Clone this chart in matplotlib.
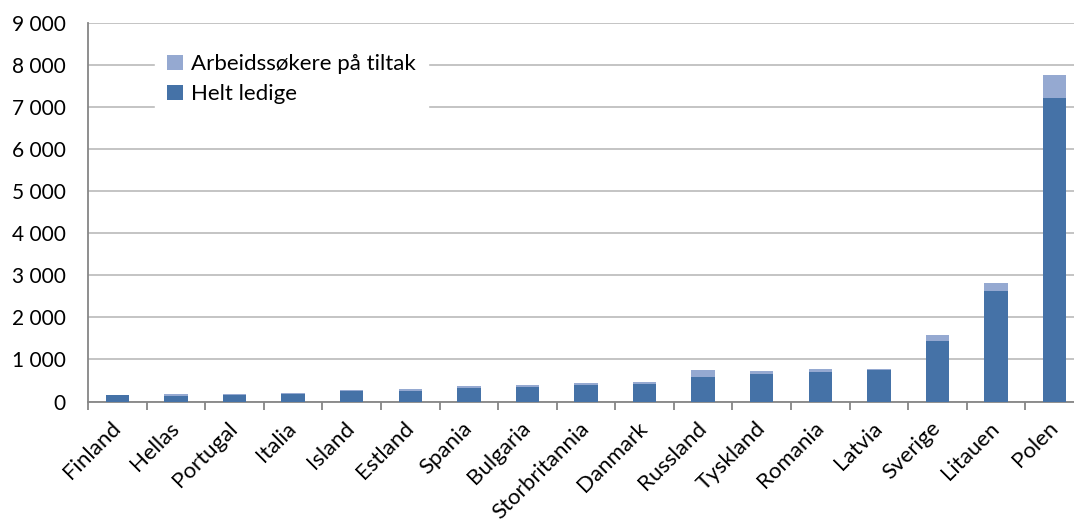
import matplotlib
matplotlib.use('Agg')
import matplotlib.pyplot as plt
import matplotlib.ticker as mticker
import numpy as np

plt.rcParams['font.family'] = ['Lato', 'DejaVu Sans']

# ── data ──
land = ['Finland', 'Hellas', 'Portugal', 'Italia', 'Island', 'Estland', 'Spania',
        'Bulgaria', 'Storbritannia', 'Danmark', 'Russland', 'Tyskland', 'Romania',
        'Latvia', 'Sverige', 'Litauen', 'Polen']
helt_ledige = [155, 125, 145, 185, 250, 255, 320, 350, 400, 425, 590, 650, 690,
               740, 1435, 2625, 7215]
tiltak = [10, 45, 40, 25, 15, 35, 60, 40, 45, 35, 150, 85, 85, 35, 155, 185, 560]

C_DARK = '#4572A7'
C_LIGHT = '#95A9D1'
C_GRID = '#BFBFBF'
C_AXIS = '#868686'

W, H = 1074, 523
fig = plt.figure(figsize=(W / 100, H / 100), dpi=100)
ax = fig.add_axes([88 / W, 1 - 401.5 / H, (1084 - 88) / W, (401.5 - 23) / H])

x = np.arange(len(land))
ax.bar(x, helt_ledige, width=0.4, color=C_DARK, label='Helt ledige', zorder=3)
ax.bar(x, tiltak, width=0.4, bottom=helt_ledige, color=C_LIGHT,
       label='Arbeidssøkere på tiltak', zorder=3)

ax.set_xlim(-0.5, len(land) - 0.5)
ax.set_ylim(0, 9000)
ax.yaxis.set_major_locator(mticker.MultipleLocator(1000))
ax.yaxis.set_major_formatter(mticker.FuncFormatter(lambda v, p: f'{int(v):,}'.replace(',', ' ')))
ax.grid(axis='y', color=C_GRID, lw=1.3, zorder=0)
ax.set_axisbelow(True)

for s in ['top', 'right']:
    ax.spines[s].set_visible(False)
for s in ['left', 'bottom']:
    ax.spines[s].set_color(C_AXIS)
    ax.spines[s].set_linewidth(1.3)

ax.tick_params(axis='y', length=0, pad=16, labelsize=15, labelcolor='black')

# category labels at centres, tick marks between categories
ax.set_xticks(x)
ax.set_xticklabels(land, rotation=45, ha='right', va='center',
                   rotation_mode='anchor', fontsize=16)
ax.tick_params(axis='x', which='major', length=0, pad=17)
ax.set_xticks(np.arange(len(land) + 1) - 0.5, minor=True)
ax.tick_params(axis='x', which='minor', length=6, width=1.3, color=C_AXIS)

handles, labels = ax.get_legend_handles_labels()
leg = fig.legend(handles[::-1], labels[::-1], loc='upper left',
                 bbox_to_anchor=(155 / W, 1 - 42 / H), frameon=True,
                 fontsize=16, handlelength=0.7, handleheight=0.7,
                 handletextpad=0.35, labelspacing=0.45, borderpad=0.55,
                 borderaxespad=0)
leg.get_frame().set_facecolor('white')
leg.get_frame().set_edgecolor('white')
leg.get_frame().set_alpha(1)
leg.get_frame().set_boxstyle('square', pad=0)

fig.savefig('out.png', dpi=100)
